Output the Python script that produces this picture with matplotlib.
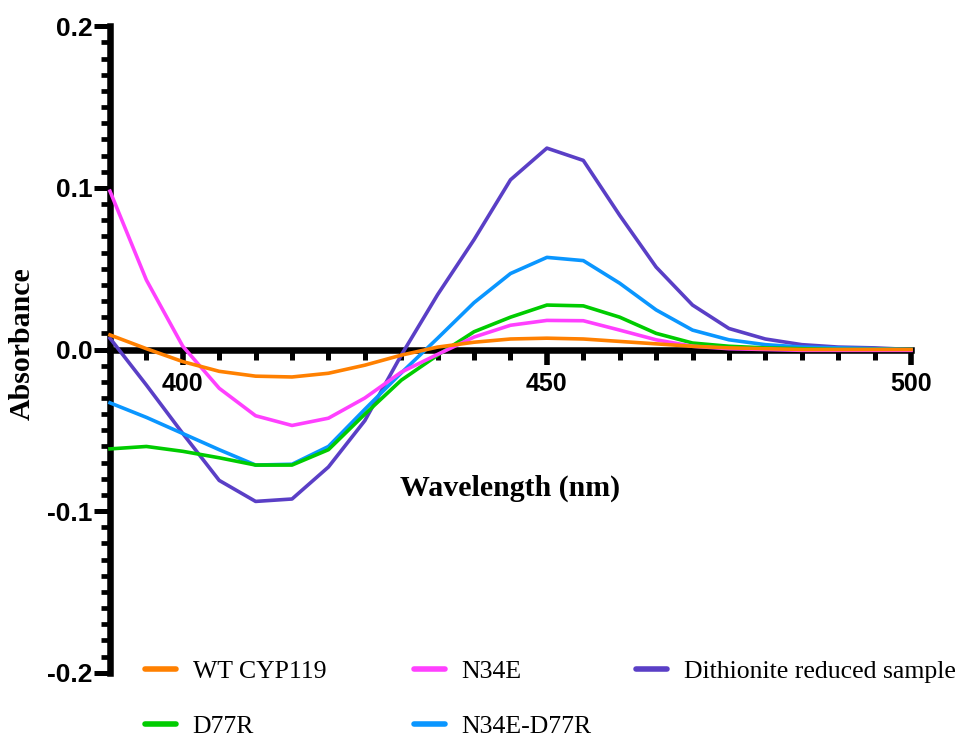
import matplotlib
matplotlib.use("Agg")
import matplotlib.pyplot as plt
from matplotlib.lines import Line2D
from matplotlib.ticker import MultipleLocator, FixedLocator, FormatStrFormatter

# Difference spectra, absorbance vs wavelength (nm)
wavelength = [390, 395, 400, 405, 410, 415, 420, 425, 430, 435, 440, 445,
              450, 455, 460, 465, 470, 475, 480, 485, 490, 495, 500]

wt_cyp119 = [0.009, 0.0005, -0.0075, -0.0135, -0.0165, -0.017, -0.0147, -0.0097,
             -0.0035, 0.0015, 0.0045, 0.0065, 0.007, 0.0065, 0.005, 0.0035,
             0.002, 0.001, 0.0005, 0.0, 0.0, 0.0, 0.0]
n34e = [0.098, 0.043, 0.002, -0.024, -0.041, -0.047, -0.0425, -0.030,
        -0.014, -0.003, 0.0077, 0.015, 0.018, 0.0178, 0.012, 0.006,
        0.002, 0.0005, 0.0, -0.0005, -0.0005, -0.0005, -0.0005]
dithionite = [0.007, -0.022, -0.052, -0.081, -0.094, -0.0925, -0.0727, -0.044,
              -0.0035, 0.034, 0.068, 0.105, 0.1246, 0.117, 0.083, 0.051,
              0.0275, 0.013, 0.0065, 0.003, 0.0015, 0.001, 0.0]
d77r = [-0.0615, -0.060, -0.063, -0.067, -0.0715, -0.0715, -0.062, -0.040,
        -0.019, -0.0035, 0.011, 0.020, 0.0275, 0.027, 0.020, 0.010,
        0.004, 0.002, 0.001, 0.0005, 0.0, 0.0, 0.0]
n34e_d77r = [-0.033, -0.042, -0.052, -0.062, -0.0715, -0.071, -0.060, -0.037,
             -0.0145, 0.007, 0.029, 0.047, 0.057, 0.055, 0.041, 0.0245,
             0.012, 0.006, 0.003, 0.0015, 0.001, 0.0005, 0.0]

labels = ["WT CYP119", "N34E", "Dithionite reduced sample", "D77R", "N34E-D77R"]
colors = {"WT CYP119": "#FF8000", "N34E": "#FF40FF",
          "Dithionite reduced sample": "#5A3FC6", "D77R": "#00CC00",
          "N34E-D77R": "#0A96FF"}
series = {"WT CYP119": wt_cyp119, "N34E": n34e,
          "Dithionite reduced sample": dithionite, "D77R": d77r,
          "N34E-D77R": n34e_d77r}

y_ticks = [-0.2, -0.1, 0.0, 0.1, 0.2]
x_ticks = [400, 450, 500]

sans = ["Liberation Sans", "DejaVu Sans"]
serif = ["Liberation Serif", "DejaVu Serif"]

fig = plt.figure(figsize=(9.63, 7.40), dpi=100)
ax = fig.add_axes([0.1142, 0.0909, 0.8318, 0.8736])

# draw in an order so the larger curves sit beneath the small ones
for name in ["Dithionite reduced sample", "N34E-D77R", "D77R", "N34E", "WT CYP119"]:
    ax.plot(wavelength, series[name], color=colors[name], lw=2.6,
            zorder=4, clip_on=False, solid_joinstyle="round")

ax.set_xlim(390, 500)
ax.set_ylim(-0.2, 0.2)

for s in ["top", "right"]:
    ax.spines[s].set_visible(False)
ax.spines["bottom"].set_position(("data", 0))
for s in ["left", "bottom"]:
    ax.spines[s].set_linewidth(4.7)
    ax.spines[s].set_zorder(3)

ax.xaxis.set_major_locator(FixedLocator(x_ticks))
ax.xaxis.set_minor_locator(MultipleLocator(5))
ax.yaxis.set_major_locator(FixedLocator(y_ticks))
ax.yaxis.set_minor_locator(MultipleLocator(0.01))
ax.yaxis.set_major_formatter(FormatStrFormatter("%.1f"))

ax.tick_params(axis="x", which="major", direction="out", length=11, width=4.0,
               pad=5, labelsize=18)
ax.tick_params(axis="x", which="minor", direction="out", length=7.5, width=3.6)
ax.tick_params(axis="y", which="major", direction="out", length=11.5, width=3.6,
               pad=1, labelsize=19)
ax.tick_params(axis="y", which="minor", direction="out", length=6.5, width=3.4)

for lab in ax.get_xticklabels() + ax.get_yticklabels():
    lab.set_family(sans)
    lab.set_fontweight("bold")

ax.text(445, -0.086, "Wavelength (nm)", ha="center", va="center",
        fontsize=21.5, fontweight="bold", family=serif)
fig.text(0.023, 0.535, "Absorbance", rotation=90, ha="center", va="center",
         fontsize=21.5, fontweight="bold", family=serif)

# legend laid out in three columns beneath the axis
columns = [(["WT CYP119", "D77R"], 145),
           (["N34E", "N34E-D77R"], 414),
           (["Dithionite reduced sample"], 636)]
for names, xpx in columns:
    handles = [Line2D([], [], color=colors[n], lw=4, solid_capstyle="round")
               for n in names]
    fig.legend(handles, names, loc="upper left",
               bbox_to_anchor=(xpx / 963, 1 - 660 / 740),
               frameon=False, borderpad=0, borderaxespad=0,
               handlelength=1.2, handletextpad=0.65, labelspacing=1.26,
               prop={"family": serif, "size": 18.5})

fig.savefig("out.png", dpi=100)
